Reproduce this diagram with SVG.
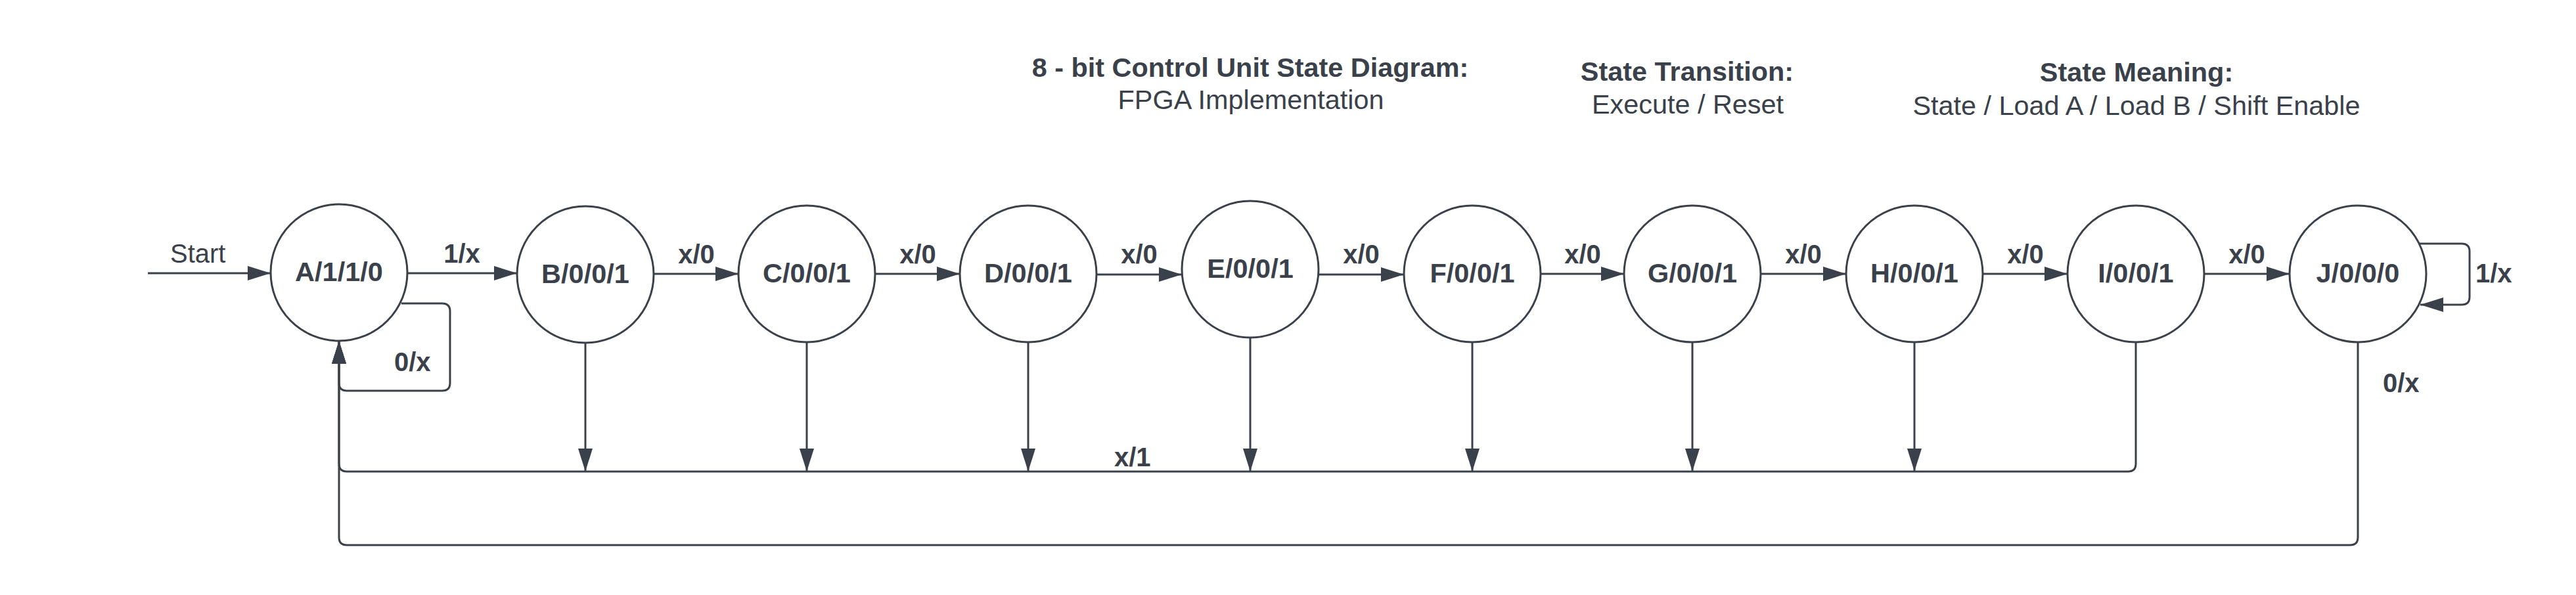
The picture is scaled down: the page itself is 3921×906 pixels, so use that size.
<svg xmlns="http://www.w3.org/2000/svg" width="3921" height="906" viewBox="0 0 3921 906">
<style>
.st{fill:#ffffff;stroke:#3a414a;stroke-width:3}
.ln{fill:none;stroke:#3a414a;stroke-width:3}
.nl{font-family:"Liberation Sans",Arial,sans-serif;font-weight:bold;font-size:40px;fill:#3a414a;text-anchor:middle}
.nn{font-family:"Liberation Sans",Arial,sans-serif;font-weight:bold;font-size:41.5px;fill:#3a414a;text-anchor:middle}
.lb{font-family:"Liberation Sans",Arial,sans-serif;font-weight:bold;font-size:40px;fill:#3a414a}
.tx{font-family:"Liberation Sans",Arial,sans-serif;font-size:40px;fill:#3a414a}
.hb{font-family:"Liberation Sans",Arial,sans-serif;font-weight:bold;font-size:41.4px;fill:#3a414a;text-anchor:middle}
.hn{font-family:"Liberation Sans",Arial,sans-serif;font-size:41.4px;fill:#3a414a;text-anchor:middle}
</style>
<defs>
<marker id="ah" markerUnits="userSpaceOnUse" markerWidth="36" markerHeight="24" refX="35" refY="11" orient="auto">
<path d="M0,0 L35,11 L0,22 Z" fill="#3a414a"/>
</marker>
</defs>
<rect width="3921" height="906" fill="#ffffff"/>

<g id="titles">
<text class="hb" x="1903" y="117">8 - bit Control Unit State Diagram:</text>
<text class="hn" x="1904" y="166">FPGA Implementation</text>
<text class="hb" x="2568" y="123">State Transition:</text>
<text class="hn" x="2569" y="173">Execute / Reset</text>
<text class="hb" x="3252" y="124">State Meaning:</text>
<text class="hn" x="3252" y="175">State / Load A / Load B / Shift Enable</text>
</g>

<g id="connectors">
<path class="ln" d="M225,416 H412" marker-end="url(#ah)"/>
<path class="ln" d="M620,416 H787" marker-end="url(#ah)"/>
<path class="ln" d="M995,417 H1124" marker-end="url(#ah)"/>
<path class="ln" d="M1332,417 H1461" marker-end="url(#ah)"/>
<path class="ln" d="M1669,418 H1799" marker-end="url(#ah)"/>
<path class="ln" d="M2007,418 H2137" marker-end="url(#ah)"/>
<path class="ln" d="M2345,417 H2472" marker-end="url(#ah)"/>
<path class="ln" d="M2680,417 H2810" marker-end="url(#ah)"/>
<path class="ln" d="M3018,417 H3147" marker-end="url(#ah)"/>
<path class="ln" d="M3355,417 H3485" marker-end="url(#ah)"/>

<path class="ln" d="M611,462 H673 Q685,462 685,474 V583 Q685,595 673,595 H528 Q516,595 516,583 V519" marker-end="url(#ah)"/>
<path class="ln" d="M3251,521 V706 Q3251,718 3239,718 H528 Q516,718 516,706 V519" marker-end="url(#ah)"/>
<path class="ln" d="M3589,521 V818 Q3589,830 3577,830 H528 Q516,830 516,818 V519" marker-end="url(#ah)"/>
<path class="ln" d="M3683,371 H3747 Q3759,371 3759,383 V452 Q3759,464 3747,464 H3684" marker-end="url(#ah)"/>

<path class="ln" d="M891,521 V718" marker-end="url(#ah)"/>
<path class="ln" d="M1228,521 V718" marker-end="url(#ah)"/>
<path class="ln" d="M1565,521 V718" marker-end="url(#ah)"/>
<path class="ln" d="M1903,514 V718" marker-end="url(#ah)"/>
<path class="ln" d="M2241,521 V718" marker-end="url(#ah)"/>
<path class="ln" d="M2576,521 V718" marker-end="url(#ah)"/>
<path class="ln" d="M2914,521 V718" marker-end="url(#ah)"/>

<text class="tx" x="259" y="400">Start</text>
<text class="nl" x="703" y="400">1/x</text>
<text class="nl" x="1060" y="401">x/0</text>
<text class="nl" x="1397" y="401">x/0</text>
<text class="nl" x="1734" y="401">x/0</text>
<text class="nl" x="2072" y="401">x/0</text>
<text class="nl" x="2409" y="401">x/0</text>
<text class="nl" x="2745" y="401">x/0</text>
<text class="nl" x="3083" y="401">x/0</text>
<text class="nl" x="3420" y="401">x/0</text>
<text class="lb" x="600" y="565">0/x</text>
<text class="lb" x="1696" y="710">x/1</text>
<text class="lb" x="3768" y="430">1/x</text>
<text class="lb" x="3627" y="597">0/x</text>
</g>

<g id="node-A"><circle class="st" cx="516" cy="415" r="104"/><text class="nn" x="516" y="428">A/1/1/0</text></g>
<g id="node-B"><circle class="st" cx="891" cy="418" r="104"/><text class="nn" x="891" y="431">B/0/0/1</text></g>
<g id="node-C"><circle class="st" cx="1228" cy="417" r="104"/><text class="nn" x="1228" y="430">C/0/0/1</text></g>
<g id="node-D"><circle class="st" cx="1565" cy="417" r="104"/><text class="nn" x="1565" y="430">D/0/0/1</text></g>
<g id="node-E"><circle class="st" cx="1903" cy="410" r="104"/><text class="nn" x="1903" y="423">E/0/0/1</text></g>
<g id="node-F"><circle class="st" cx="2241" cy="417" r="104"/><text class="nn" x="2241" y="430">F/0/0/1</text></g>
<g id="node-G"><circle class="st" cx="2576" cy="417" r="104"/><text class="nn" x="2576" y="430">G/0/0/1</text></g>
<g id="node-H"><circle class="st" cx="2914" cy="417" r="104"/><text class="nn" x="2914" y="430">H/0/0/1</text></g>
<g id="node-I"><circle class="st" cx="3251" cy="417" r="104"/><text class="nn" x="3251" y="430">I/0/0/1</text></g>
<g id="node-J"><circle class="st" cx="3589" cy="417" r="104"/><text class="nn" x="3589" y="430">J/0/0/0</text></g>
</svg>
